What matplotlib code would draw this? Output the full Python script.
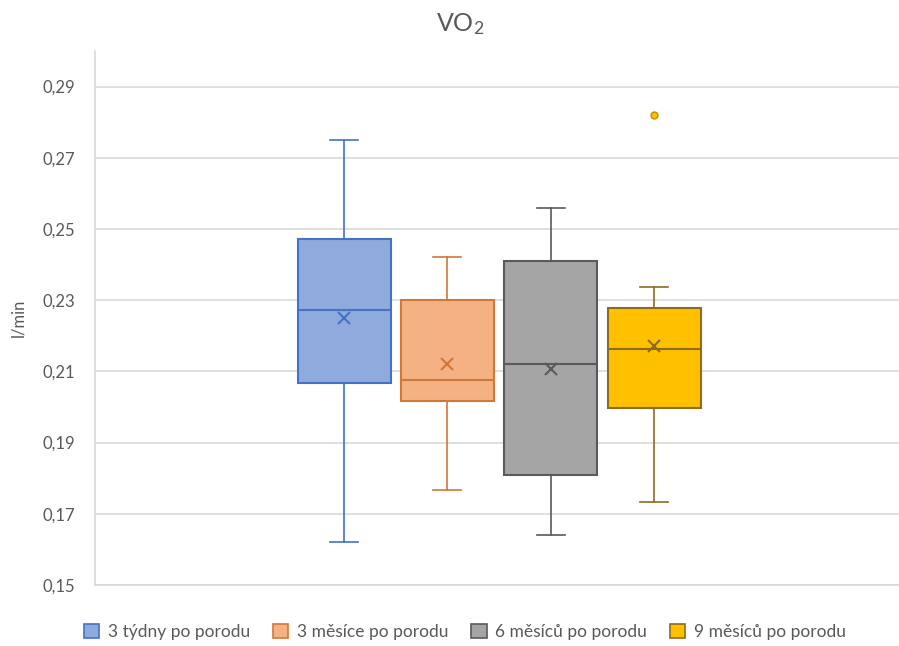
import matplotlib.pyplot as plt
from matplotlib.patches import Patch
from matplotlib.ticker import FuncFormatter

plt.rcParams['font.family'] = ['Lato', 'DejaVu Sans']
plt.rcParams['mathtext.fontset'] = 'custom'
plt.rcParams['mathtext.rm'] = 'Lato'
plt.rcParams['mathtext.it'] = 'Lato'

# Box statistics per measurement period (l/min)
labels = ['3 týdny po porodu', '3 měsíce po porodu', '6 měsíců po porodu', '9 měsíců po porodu']
whislo = [0.1621, 0.1768, 0.1640, 0.1732]
q1 = [0.2067, 0.2016, 0.1809, 0.1997]
med = [0.2273, 0.2077, 0.2122, 0.2164]
mean = [0.2250, 0.2121, 0.2107, 0.2172]
q3 = [0.2471, 0.2300, 0.2411, 0.2278]
whishi = [0.2750, 0.2421, 0.2558, 0.2337]
fliers = [[], [], [], [0.2819]]

fills = ['#8FAADC', '#F4B183', '#A5A5A5', '#FFC000']
edges = ['#4472C4', '#D0783A', '#5A5A5A', '#8C6D1F']

stats = []
for i in range(len(labels)):
    stats.append(dict(label=labels[i], whislo=whislo[i], q1=q1[i], med=med[i],
                      mean=mean[i], q3=q3[i], whishi=whishi[i], fliers=fliers[i]))

fig = plt.figure(figsize=(8.99, 6.46), dpi=100)
ax = fig.add_axes([95 / 899, (646 - 585) / 646, 804 / 899, (585 - 51) / 646])

positions = [0, 1, 2, 3]
for i, s in enumerate(stats):
    ax.bxp([s], positions=[positions[i]], widths=0.9, patch_artist=True,
           showmeans=True, showfliers=True,
           boxprops=dict(facecolor=fills[i], edgecolor=edges[i], linewidth=1.5),
           medianprops=dict(color=edges[i], linewidth=1.5),
           whiskerprops=dict(color=edges[i], linewidth=1.2),
           capprops=dict(color=edges[i], linewidth=1.2),
           capwidths=0.27,
           meanprops=dict(marker='x', markeredgecolor=edges[i], markersize=9,
                          markeredgewidth=1.5),
           flierprops=dict(marker='o', markerfacecolor=fills[i],
                           markeredgecolor='#C09000', markersize=5))

ax.set_xlim(-2.41, 5.37)
ax.set_ylim(0.15, 0.30)
ax.set_yticks([0.15, 0.17, 0.19, 0.21, 0.23, 0.25, 0.27, 0.29])
ax.yaxis.set_major_formatter(FuncFormatter(lambda v, p: f'{v:.2f}'.replace('.', ',')))
ax.set_xticks([])
ax.grid(axis='y', color='#D9D9D9', linewidth=1.2)
ax.set_axisbelow(True)
for side in ['top', 'right']:
    ax.spines[side].set_visible(False)
ax.spines['left'].set_color('#D9D9D9')
ax.spines['bottom'].set_color('#D9D9D9')
ax.spines['left'].set_linewidth(1.2)
ax.spines['bottom'].set_linewidth(1.2)
ax.tick_params(axis='y', length=0, labelsize=12, labelcolor='#595959', pad=14)

ax.set_ylabel('l/min', fontsize=12, color='#595959', labelpad=12)
fig.text(0.512, 0.962, 'VO$_2$', ha='center', va='center', fontsize=18, color='#595959')

handles = [Patch(facecolor=fills[i], edgecolor=edges[i], linewidth=1.2, label=labels[i])
           for i in range(len(labels))]
fig.legend(handles=handles, loc='center', bbox_to_anchor=(0.517, 0.022), ncol=4,
           frameon=False, fontsize=12.5, labelcolor='#595959', handlelength=0.9,
           handleheight=0.9, handletextpad=0.5, columnspacing=1.3)

fig.savefig('out.png', dpi=100)
